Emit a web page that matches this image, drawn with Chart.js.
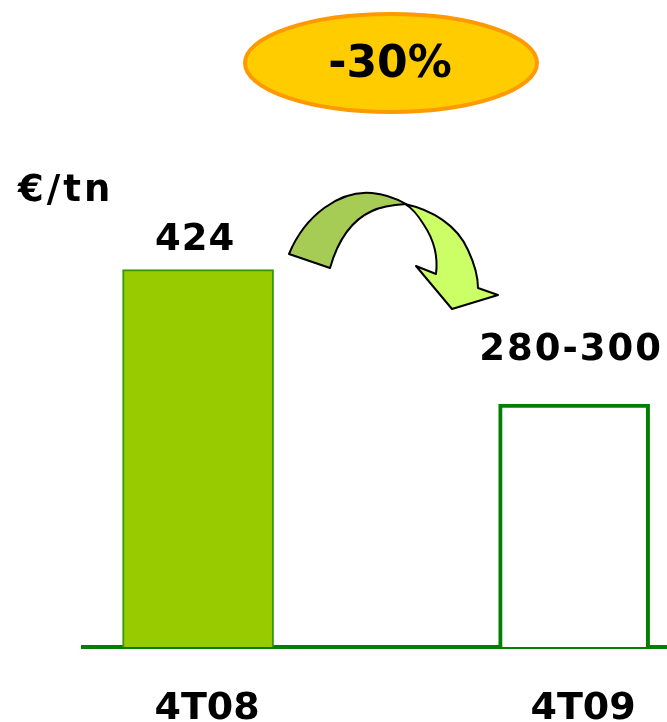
<!DOCTYPE html>
<html>
<head>
<meta charset="utf-8">
<script src="https://cdn.jsdelivr.net/npm/chart.js@4"></script>
<style>
  html, body { margin: 0; padding: 0; background: #fff; }
  #wrap { width: 667px; height: 722px; }
</style>
</head>
<body>
<div id="wrap"><canvas id="priceChart" width="667" height="722"></canvas></div>
<script>
'use strict'

// Data
const categories = ['4T08', '4T09']
const prices = [424, 273]          // bar heights (€/tn)
const labelTops = [424, 300]       // top of the quoted value / range
const valueLabels = ['424', '280-300']
const changeLabel = '-30%'
const unitLabel = '€/tn'

const FONT = "'DejaVu Sans', Verdana, sans-serif"

// Draw value labels, unit, the -30% bubble and the curved arrow
const decorations = {
  id: 'decorations',
  afterDatasetsDraw(chart) {
    const ctx = chart.ctx
    const meta = chart.getDatasetMeta(0)
    const y = chart.scales.y
    ctx.save()
    ctx.fillStyle = '#000'
    ctx.font = 'bold 37px ' + FONT
    ctx.textAlign = 'center'
    ctx.textBaseline = 'bottom'
    meta.data.forEach((bar, i) => {
      ctx.letterSpacing = i === 0 ? '1px' : '2px'
      ctx.fillText(valueLabels[i], bar.x - 3, y.getPixelForValue(labelTops[i]) - 11)
    })

    // unit
    ctx.letterSpacing = '3px'
    ctx.textAlign = 'left'
    ctx.textBaseline = 'middle'
    ctx.font = 'bold 37px ' + FONT
    ctx.fillText(unitLabel, 18, 191)
    ctx.letterSpacing = '0px'

    // bubble
    ctx.beginPath()
    ctx.ellipse(391, 63, 146, 49, 0, 0, Math.PI * 2)
    ctx.fillStyle = '#FFCC00'
    ctx.fill()
    ctx.lineWidth = 4
    ctx.strokeStyle = '#FF9900'
    ctx.stroke()
    ctx.fillStyle = '#000'
    ctx.textAlign = 'center'
    ctx.font = 'bold 44px ' + FONT
    ctx.fillText(changeLabel, 390, 66)

    // curved arrow, back part
    ctx.lineWidth = 2
    ctx.strokeStyle = '#000'
    ctx.lineJoin = 'round'
    ctx.beginPath()
    ctx.moveTo(289, 254)
    ctx.bezierCurveTo(305, 215, 340, 190, 372, 193)
    ctx.bezierCurveTo(385, 194, 397, 199, 406, 204)
    ctx.bezierCurveTo(390, 205, 378, 208, 372, 211)
    ctx.bezierCurveTo(352, 220, 338, 240, 330, 268)
    ctx.closePath()
    ctx.fillStyle = '#A6CC55'
    ctx.fill()
    ctx.stroke()

    // front part with head
    ctx.beginPath()
    ctx.moveTo(405, 204)
    ctx.bezierCurveTo(432, 210, 457, 225, 468, 250)
    ctx.bezierCurveTo(475, 265, 478, 278, 478, 288)
    ctx.lineTo(498, 295)
    ctx.lineTo(452, 309)
    ctx.lineTo(416, 266)
    ctx.lineTo(436, 274)
    ctx.bezierCurveTo(438, 258, 434, 240, 424, 225)
    ctx.bezierCurveTo(418, 215, 412, 208, 405, 204)
    ctx.closePath()
    ctx.fillStyle = '#CCFF66'
    ctx.fill()
    ctx.stroke()
    ctx.restore()
  }
}

new Chart(document.getElementById('priceChart'), {
  type: 'bar',
  data: {
    datasets: [{
      data: prices.map((v, i) => ({ x: i + 1, y: v })),
      backgroundColor: ['#99CC00', '#FFFFFF'],
      borderColor: ['#339900', '#008000'],
      borderWidth: [2, 4],
      barThickness: 151
    }]
  },
  options: {
    responsive: false,
    animation: false,
    events: [],
    layout: { padding: { top: 113, left: 83, right: 0, bottom: 0 } },
    plugins: { legend: { display: false }, tooltip: { enabled: false } },
    scales: {
      x: {
        type: 'linear',
        offset: false,
        min: 0.694,
        max: 2.247,
        afterBuildTicks: (scale) => {
          scale.ticks = categories.map((c, i) => ({ value: i + 1 }))
        },
        afterFit: (scale) => {
          scale.height = 75
          scale.paddingLeft = 0
          scale.paddingRight = 0
        },
        grid: { display: false, drawTicks: false },
        border: { display: true, color: '#008000', width: 4 },
        ticks: {
          autoSkip: false,
          maxRotation: 0,
          padding: 43,
          labelOffset: 9,
          color: '#000',
          font: { family: FONT, size: 38, weight: 'bold', lineHeight: 1 },
          callback: (v) => categories[Math.round(v) - 1]
        }
      },
      y: {
        display: false,
        min: 0,
        max: 600
      }
    }
  },
  plugins: [decorations]
})
</script>
</body>
</html>
